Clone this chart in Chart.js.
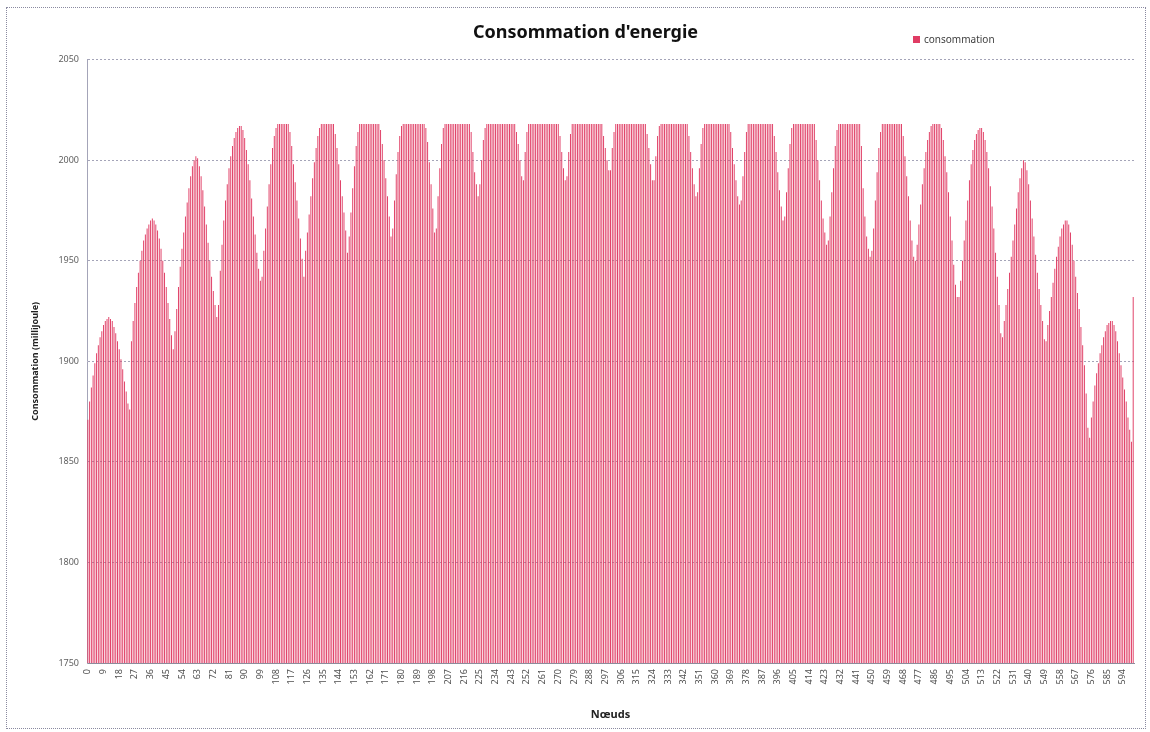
<!DOCTYPE html>
<html>
<head>
<meta charset="utf-8">
<script src="https://cdn.jsdelivr.net/npm/chart.js@4/dist/chart.umd.min.js"></script>
<style>
  html, body { margin: 0; padding: 0; background: #fff; }
  #wrap { position: relative; width: 1150px; height: 732px; }
  #frame { position: absolute; left: 6px; top: 7px; width: 1140px; height: 722px;
           border: 1px dotted #8a8aa0; box-sizing: border-box; pointer-events: none; }
</style>
</head>
<body>
<div id="wrap">
  <canvas id="chart" width="1150" height="732"></canvas>
  <div id="frame"></div>
</div>
<script>
// 24 rows of 25 nodes (one arch per row), then the sink node 600
const row00 = [1871, 1880, 1887, 1893, 1899, 1904, 1908, 1912, 1915, 1918, 1920, 1921, 1922, 1921, 1920, 1917, 1914, 1910, 1906, 1901, 1896, 1890, 1885, 1879, 1876]
const row01 = [1910, 1920, 1929, 1937, 1944, 1950, 1955, 1960, 1963, 1966, 1968, 1970, 1971, 1970, 1968, 1965, 1961, 1956, 1950, 1944, 1937, 1929, 1921, 1913, 1906]
const row02 = [1915, 1926, 1937, 1947, 1956, 1964, 1972, 1979, 1986, 1992, 1997, 2000, 2002, 2001, 1997, 1992, 1985, 1977, 1968, 1959, 1950, 1942, 1935, 1928, 1922]
const row03 = [1928, 1945, 1958, 1970, 1980, 1988, 1996, 2002, 2007, 2011, 2014, 2016, 2017, 2017, 2015, 2011, 2005, 1998, 1990, 1981, 1972, 1963, 1954, 1946, 1940]
const row04 = [1942, 1955, 1966, 1977, 1988, 1998, 2006, 2012, 2016, 2018, 2018, 2018, 2018, 2018, 2018, 2018, 2014, 2007, 1998, 1989, 1980, 1971, 1961, 1951, 1942]
const row05 = [1955, 1964, 1973, 1982, 1991, 1999, 2006, 2012, 2016, 2018, 2018, 2018, 2018, 2018, 2018, 2018, 2018, 2013, 2006, 1998, 1990, 1982, 1974, 1965, 1954]
const row06 = [1962, 1974, 1986, 1997, 2007, 2014, 2018, 2018, 2018, 2018, 2018, 2018, 2018, 2018, 2018, 2018, 2018, 2018, 2015, 2008, 2000, 1991, 1982, 1972, 1962]
const row07 = [1966, 1980, 1993, 2004, 2012, 2017, 2018, 2018, 2018, 2018, 2018, 2018, 2018, 2018, 2018, 2018, 2018, 2018, 2018, 2016, 2009, 1999, 1988, 1976, 1964]
const row08 = [1966, 1982, 1996, 2008, 2016, 2018, 2018, 2018, 2018, 2018, 2018, 2018, 2018, 2018, 2018, 2018, 2018, 2018, 2018, 2018, 2014, 2004, 1994, 1988, 1982]
const row09 = [1988, 2000, 2010, 2016, 2018, 2018, 2018, 2018, 2018, 2018, 2018, 2018, 2018, 2018, 2018, 2018, 2018, 2018, 2018, 2018, 2018, 2014, 2008, 2000, 1992]
const row10 = [1990, 2004, 2014, 2018, 2018, 2018, 2018, 2018, 2018, 2018, 2018, 2018, 2018, 2018, 2018, 2018, 2018, 2018, 2018, 2018, 2018, 2012, 2004, 1996, 1990]
const row11 = [1992, 2004, 2013, 2018, 2018, 2018, 2018, 2018, 2018, 2018, 2018, 2018, 2018, 2018, 2018, 2018, 2018, 2018, 2018, 2018, 2018, 2012, 2006, 2000, 1995]
const row12 = [1995, 2006, 2014, 2018, 2018, 2018, 2018, 2018, 2018, 2018, 2018, 2018, 2018, 2018, 2018, 2018, 2018, 2018, 2018, 2018, 2018, 2013, 2006, 1998, 1990]
const row13 = [1990, 2002, 2012, 2017, 2018, 2018, 2018, 2018, 2018, 2018, 2018, 2018, 2018, 2018, 2018, 2018, 2018, 2018, 2018, 2018, 2012, 2004, 1996, 1988, 1982]
const row14 = [1984, 1996, 2008, 2016, 2018, 2018, 2018, 2018, 2018, 2018, 2018, 2018, 2018, 2018, 2018, 2018, 2018, 2018, 2018, 2014, 2006, 1998, 1990, 1982, 1978]
const row15 = [1980, 1992, 2004, 2014, 2018, 2018, 2018, 2018, 2018, 2018, 2018, 2018, 2018, 2018, 2018, 2018, 2018, 2018, 2018, 2012, 2004, 1994, 1985, 1977, 1970]
const row16 = [1972, 1984, 1996, 2008, 2016, 2018, 2018, 2018, 2018, 2018, 2018, 2018, 2018, 2018, 2018, 2018, 2018, 2018, 2010, 2000, 1990, 1980, 1971, 1964, 1958]
const row17 = [1960, 1972, 1984, 1996, 2007, 2015, 2018, 2018, 2018, 2018, 2018, 2018, 2018, 2018, 2018, 2018, 2018, 2018, 2018, 2007, 1986, 1972, 1962, 1956, 1952]
const row18 = [1955, 1966, 1980, 1994, 2006, 2014, 2018, 2018, 2018, 2018, 2018, 2018, 2018, 2018, 2018, 2018, 2018, 2018, 2012, 2002, 1992, 1982, 1970, 1960, 1952]
const row19 = [1950, 1958, 1968, 1978, 1988, 1996, 2004, 2010, 2014, 2017, 2018, 2018, 2018, 2018, 2018, 2016, 2010, 2002, 1994, 1984, 1972, 1960, 1948, 1938, 1932]
const row20 = [1932, 1940, 1950, 1960, 1970, 1980, 1990, 1998, 2005, 2010, 2013, 2015, 2016, 2016, 2014, 2010, 2004, 1996, 1987, 1977, 1966, 1954, 1942, 1928, 1914]
const row21 = [1912, 1920, 1928, 1936, 1944, 1952, 1960, 1968, 1976, 1984, 1991, 1996, 2000, 1999, 1995, 1988, 1980, 1971, 1962, 1953, 1944, 1936, 1928, 1920, 1911]
const row22 = [1910, 1918, 1925, 1932, 1939, 1946, 1952, 1957, 1962, 1966, 1968, 1970, 1970, 1968, 1964, 1958, 1950, 1942, 1934, 1926, 1917, 1908, 1898, 1884, 1867]
const row23 = [1862, 1872, 1880, 1888, 1894, 1899, 1904, 1908, 1912, 1915, 1918, 1919, 1920, 1920, 1918, 1915, 1910, 1904, 1898, 1892, 1886, 1880, 1872, 1866, 1860]
const sink = [1932]

const consommation = [].concat(
  row00, row01, row02, row03, row04, row05, row06, row07, row08, row09, row10, row11,
  row12, row13, row14, row15, row16, row17, row18, row19, row20, row21, row22, row23, sink)

// node ids 0..600; only every 9th is labelled on the axis
const nodes = consommation.map((_, i) => String(i))
const labelEvery = 9

const FONT = "'Noto Sans', 'Open Sans', sans-serif"
const BAR = '#e03c64'
const GRID = '#a4a4b8'

// legend drawn to the right of the title, like the spreadsheet layout
const sideLegend = {
  id: 'sideLegend',
  afterDraw(chart) {
    const ctx = chart.ctx
    ctx.save()
    ctx.fillStyle = BAR
    ctx.fillRect(913, 36, 7, 7)
    ctx.fillStyle = '#404040'
    ctx.font = `10px ${FONT}`
    ctx.textBaseline = 'middle'
    ctx.fillText(chart.data.datasets[0].label, 924, 40)
    ctx.restore()
  },
}

new Chart(document.getElementById('chart'), {
  type: 'bar',
  data: {
    labels: nodes,
    datasets: [{
      label: 'consommation',
      data: consommation,
      backgroundColor: BAR,
      borderWidth: 0,
      categoryPercentage: 1,
      barPercentage: 0.55,
    }],
  },
  options: {
    responsive: false,
    animation: false,
    layout: { padding: { left: 26, right: 5, top: 0, bottom: 7 } },
    plugins: {
      legend: { display: false },
      tooltip: { enabled: false },
      title: {
        display: true,
        text: "Consommation d'energie",
        color: '#111',
        font: { family: FONT, size: 18, weight: 'bold' },
        padding: { top: 22, bottom: 16 },
      },
    },
    scales: {
      x: {
        grid: { display: false, drawTicks: false },
        border: { color: '#8c8c9c' },
        ticks: {
          autoSkip: false,
          minRotation: 90,
          maxRotation: 90,
          padding: 6,
          color: '#505050',
          font: { family: FONT, size: 9 },
          callback: (v, i) => (i % labelEvery === 0 ? nodes[i] : ''),
        },
        title: {
          display: true,
          text: 'Nœuds',
          color: '#222',
          font: { family: FONT, size: 11, weight: 'bold' },
        },
        afterFit(scale) { scale.height = 62 },
      },
      y: {
        min: 1750,
        max: 2050,
        grid: { color: GRID, drawTicks: false },
        border: { color: GRID, dash: [2, 2] },
        ticks: {
          stepSize: 50,
          padding: 8,
          color: '#606060',
          font: { family: FONT, size: 9 },
          callback: (v) => String(v),
        },
        title: {
          display: true,
          text: 'Consommation (milliJoule)',
          color: '#222',
          font: { family: FONT, size: 9, weight: 'bold' },
        },
        afterFit(scale) { scale.width = 61 },
      },
    },
  },
  plugins: [sideLegend],
})
</script>
</body>
</html>
